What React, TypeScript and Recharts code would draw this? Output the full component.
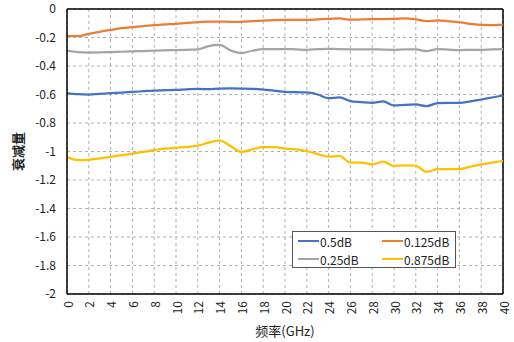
import {
  LineChart,
  Line,
  XAxis,
  YAxis,
  CartesianGrid,
  Legend,
  ReferenceLine,
} from 'recharts';

const FREQS = [
  0, 1, 2, 3, 4, 5, 6, 7, 8, 9, 10, 11, 12, 13, 14, 15, 16, 17, 18, 19, 20,
  21, 22, 23, 24, 25, 26, 27, 28, 29, 30, 31, 32, 33, 34, 35, 36, 37, 38, 39, 40,
];

const DB_0_5 = [
  -0.59, -0.598, -0.6, -0.595, -0.591, -0.586, -0.582, -0.577, -0.572, -0.57, -0.568,
  -0.564, -0.561, -0.563, -0.558, -0.557, -0.558, -0.56, -0.565, -0.572, -0.582,
  -0.584, -0.585, -0.6, -0.626, -0.62, -0.647, -0.654, -0.659, -0.649, -0.677,
  -0.672, -0.67, -0.682, -0.66, -0.658, -0.659, -0.649, -0.635, -0.621, -0.607,
];

const DB_0_125 = [
  -0.19, -0.19, -0.175, -0.16, -0.147, -0.135, -0.127, -0.12, -0.113, -0.108, -0.104,
  -0.098, -0.093, -0.088, -0.088, -0.09, -0.091, -0.085, -0.081, -0.078, -0.077,
  -0.077, -0.076, -0.073, -0.07, -0.066, -0.075, -0.073, -0.071, -0.071, -0.07,
  -0.065, -0.072, -0.085, -0.08, -0.086, -0.093, -0.104, -0.112, -0.113, -0.11,
];

const DB_0_25 = [
  -0.292, -0.303, -0.306, -0.305, -0.303, -0.3, -0.297, -0.295, -0.292, -0.29, -0.288,
  -0.286, -0.283, -0.26, -0.252, -0.29, -0.309, -0.293, -0.282, -0.281, -0.281,
  -0.283, -0.286, -0.282, -0.279, -0.282, -0.283, -0.283, -0.283, -0.285, -0.286,
  -0.283, -0.284, -0.296, -0.282, -0.285, -0.288, -0.287, -0.286, -0.283, -0.281,
];

const DB_0_875 = [
  -1.038, -1.06, -1.058, -1.048, -1.038, -1.026, -1.015, -1.002, -0.99, -0.98, -0.973,
  -0.967, -0.959, -0.938, -0.922, -0.962, -1.003, -0.985, -0.969, -0.969, -0.98,
  -0.985, -0.997, -1.018, -1.036, -1.031, -1.078, -1.078, -1.09, -1.071, -1.1,
  -1.098, -1.1, -1.143, -1.124, -1.124, -1.124, -1.106, -1.09, -1.078, -1.066,
];

const X_TICKS = [0, 2, 4, 6, 8, 10, 12, 14, 16, 18, 20, 22, 24, 26, 28, 30, 32, 34, 36, 38, 40];
const Y_TICKS = [0, -0.2, -0.4, -0.6, -0.8, -1, -1.2, -1.4, -1.6, -1.8, -2];

const SERIES = [
  { key: 'a', name: '0.5dB', color: '#4472C4', values: DB_0_5 },
  { key: 'b', name: '0.125dB', color: '#ED7D31', values: DB_0_125 },
  { key: 'c', name: '0.25dB', color: '#A5A5A5', values: DB_0_25 },
  { key: 'd', name: '0.875dB', color: '#FFC000', values: DB_0_875 },
];

const data = FREQS.map((f, i) => {
  const row: Record<string, number> = { f };
  SERIES.forEach((s) => {
    row[s.key] = s.values[i];
  });
  return row;
});

const FONT = '"Noto Sans CJK SC", "Noto Sans", sans-serif';

function XTick(props: any) {
  const { x, y, payload } = props;
  return (
    <text
      x={x}
      y={y}
      transform={`rotate(-90 ${x} ${y})`}
      textAnchor="end"
      dominantBaseline="central"
      fontSize={12}
      fontFamily={FONT}
      fill="#222"
    >
      {payload.value}
    </text>
  );
}

function renderLegend() {
  return (
    <div
      style={{
        width: 164,
        height: 37,
        border: '1px solid #555',
        background: '#fff',
        boxSizing: 'border-box',
        display: 'grid',
        gridTemplateColumns: '84px 80px',
        gridTemplateRows: '18px 18px',
        fontFamily: FONT,
        fontSize: 12,
        color: '#222',
      }}
    >
      {SERIES.map((s) => (
        <div key={s.key} style={{ display: 'flex', alignItems: 'center', paddingLeft: 5 }}>
          <span style={{ width: 21, height: 2.5, background: s.color, display: 'inline-block', marginRight: 1 }} />
          <span>{s.name}</span>
        </div>
      ))}
    </div>
  );
}

export default function App() {
  return (
    <div style={{ position: 'absolute', left: 0, top: 0, width: 514, height: 342, background: '#fff' }}>
      <LineChart
        width={514}
        height={342}
        data={data}
        margin={{ top: 9, right: 11, left: 0, bottom: 0 }}
      >
        <CartesianGrid stroke="#b0b0b0" strokeDasharray="3 3" />
        <XAxis
          dataKey="f"
          type="number"
          domain={[0, 40]}
          ticks={X_TICKS}
          interval={0}
          height={48}
          tickLine={false}
          tickSize={0}
          tickMargin={7}
          tick={<XTick />}
          axisLine={{ stroke: '#000', strokeWidth: 1.5 }}
          label={{
            value: '频率(GHz)',
            position: 'insideBottom',
            offset: 6,
            fontSize: 13,
            fontFamily: FONT,
            fill: '#222',
          }}
        />
        <YAxis
          type="number"
          domain={[-2, 0]}
          ticks={Y_TICKS}
          interval={0}
          width={67}
          tickLine={false}
          tickSize={0}
          tickMargin={11}
          tickFormatter={(v: number) => String(Number(v.toFixed(1)))}
          tick={{ fontSize: 12, fontFamily: FONT, fill: '#222' }}
          axisLine={{ stroke: '#000', strokeWidth: 1.5 }}
          label={{
            value: '衰减量',
            angle: -90,
            position: 'insideLeft',
            offset: 18,
            fontSize: 13,
            fontFamily: FONT,
            fill: '#222',
            style: { textAnchor: 'middle', fill: '#222', fontWeight: 600 },
          }}
        />
        <ReferenceLine y={0} stroke="#000" strokeWidth={1.5} />
        <ReferenceLine x={40} stroke="#000" strokeWidth={1.5} />
        {SERIES.map((s) => (
          <Line
            key={s.key}
            dataKey={s.key}
            name={s.name}
            stroke={s.color}
            strokeWidth={2.25}
            type="monotone"
            dot={false}
            isAnimationActive={false}
          />
        ))}
        <Legend
          layout="vertical"
          align="center"
          verticalAlign="middle"
          content={renderLegend}
          wrapperStyle={{ left: 292, top: 231, width: 164, height: 37 }}
        />
      </LineChart>
    </div>
  );
}
